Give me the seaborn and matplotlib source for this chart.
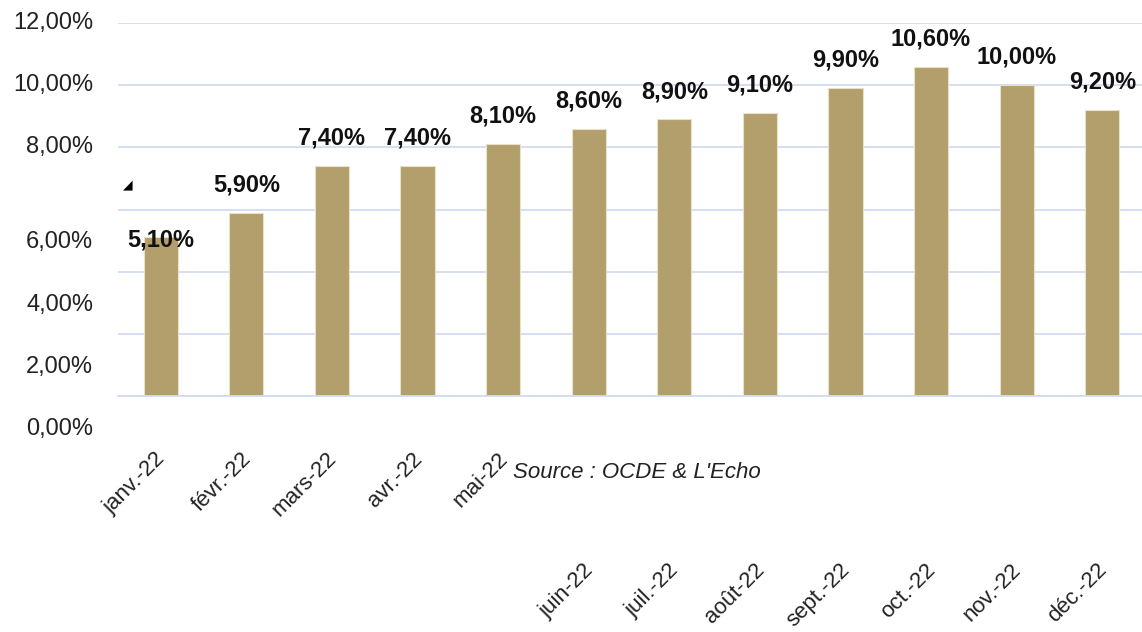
import matplotlib
matplotlib.use('Agg')
import matplotlib.pyplot as plt
import seaborn as sns

# inflation 2022
months = ['janv.-22', 'févr.-22', 'mars-22', 'avr.-22', 'mai-22', 'juin-22',
          'juil.-22', 'août-22', 'sept.-22', 'oct.-22', 'nov.-22', 'déc.-22']
values = [5.1, 5.9, 7.4, 7.4, 8.1, 8.6, 8.9, 9.1, 9.9, 10.6, 10.0, 9.2]
y_ticks = [0, 2, 4, 6, 8, 10, 12]
source = "Source : OCDE & L'Echo"

BAR = '#b39f6b'
GRID = '#d2dcf1'


def pct(v):
    return '{:.2f}%'.format(v).replace('.', ',')


sns.set_style('white')
plt.rcParams['font.family'] = ['Liberation Sans', 'DejaVu Sans']

fig = plt.figure(figsize=(11.42, 6.32), dpi=100)
ax = fig.add_axes([118 / 1142, 236 / 632, 1027 / 1142, 373 / 632])

sns.barplot(x=months, y=values, color=BAR, saturation=1, width=0.4,
            edgecolor='#e9e0c8', linewidth=0.8, ax=ax)
ax.set_xlim(-0.5, len(months) - 0.5)
ax.set_ylim(0, 12)
ax.set_yticks(y_ticks)
ax.set_yticklabels([])
ax.yaxis.grid(True, color=GRID, linewidth=1.3)
ax.set_axisbelow(True)
ax.set_xlabel('')
ax.set_ylabel('')
for side in ['top', 'right', 'left']:
    ax.spines[side].set_visible(False)
ax.spines['bottom'].set_color(GRID)
ax.spines['bottom'].set_linewidth(1.3)
ax.set_xticks([i - 0.5 for i in range(len(months) + 1)])
ax.set_xticklabels([])
ax.tick_params(axis='x', length=8, width=1.3, color=GRID, direction='out')
ax.tick_params(axis='y', length=0)

# y labels (the lower half sits one step lower, as in the export)
for v in y_ticks:
    pos = v if v >= 8 else v - 1.06
    ax.text(-0.024, pos, pct(v), transform=ax.get_yaxis_transform(),
            ha='right', va='center', fontsize=17, color='#222222', clip_on=False)

# data labels
for i, v in enumerate(values):
    off = -2 if i == 0 else 20
    ax.annotate(pct(v), xy=(i, v), xytext=(0, off), textcoords='offset points',
                ha='center', va='center', fontsize=17, fontweight='bold',
                color='#111111', annotation_clip=False)

# month labels, two rows
for i, m in enumerate(months):
    dy = -43 if i < 5 else -123
    ax.annotate(m, xy=(i, 0), xycoords=('data', 'axes fraction'),
                xytext=(1, dy), textcoords='offset points', rotation=45,
                ha='right', va='center', rotation_mode='anchor',
                fontsize=16, color='#222222', annotation_clip=False)

fig.text(513 / 1142, 1 - 472 / 632, source, fontsize=16, style='italic',
         ha='left', va='center', color='#222222')
fig.text(128 / 1142, 1 - 185 / 632, '◢', fontsize=9, ha='center', va='center',
         family='DejaVu Sans', color='black')

fig.savefig('out.png', dpi=100)
